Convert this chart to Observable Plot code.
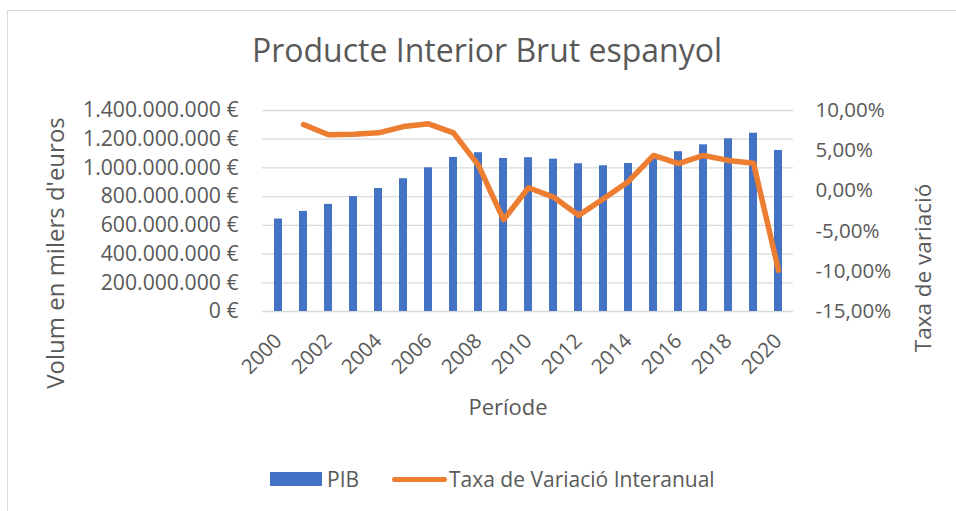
<!DOCTYPE html>
<html>
<head>
<meta charset="utf-8">
<script src="https://cdn.jsdelivr.net/npm/d3@7"></script>
<script src="https://cdn.jsdelivr.net/npm/@observablehq/plot@0.6"></script>
<style>
  html, body { margin: 0; padding: 0; background: #fff; }
  #wrap { position: relative; width: 956px; height: 511px; overflow: hidden; font-family: "Open Sans", sans-serif; color: #595959; }
  #frame { position: absolute; left: 7px; top: 10px; width: 1000px; height: 600px; border-left: 1.5px solid #d9d9d9; border-top: 1.5px solid #d9d9d9; }
  #chart { position: absolute; left: 0; top: 0; }
  #title { position: absolute; left: 9px; top: 30px; width: 956px; text-align: center; font-size: 32px; line-height: 40px; white-space: nowrap; }
  .leg { position: absolute; top: 465px; font-size: 21px; line-height: 28px; white-space: nowrap; }
  #sw1 { position: absolute; left: 270px; top: 472px; width: 52px; height: 14px; background: #4472C4; }
  #sw2 { position: absolute; left: 392px; top: 476.5px; width: 55px; height: 5px; border-radius: 3px; background: #ED7D31; }
</style>
</head>
<body>
<div id="wrap">
  <div id="frame"></div>
  <div id="chart"></div>
  <div id="title">Producte Interior Brut espanyol</div>
  <div id="sw1"></div><div class="leg" style="left:327px">PIB</div>
  <div id="sw2"></div><div class="leg" style="left:449px">Taxa de Variació Interanual</div>
</div>
<script>
// ---- data ----
const years = [2000, 2001, 2002, 2003, 2004, 2005, 2006, 2007, 2008, 2009, 2010,
               2011, 2012, 2013, 2014, 2015, 2016, 2017, 2018, 2019, 2020];
// PIB, volum en milers d'euros
const pib = [644e6, 697e6, 746e6, 800e6, 857e6, 925e6, 1001e6, 1073e6, 1106e6, 1066e6, 1071e6,
             1061e6, 1029e6, 1015e6, 1031e6, 1076e6, 1113e6, 1161e6, 1203e6, 1242e6, 1122e6];
// Taxa de variació interanual (%)
const taxa = [null, 8.26, 6.98, 7.06, 7.22, 8.0, 8.34, 7.22, 3.17, -3.58, 0.39,
              -0.77, -3.04, -0.97, 1.18, 4.41, 3.38, 4.41, 3.79, 3.45, -9.87];
const leftTicks = [0, 200e6, 400e6, 600e6, 800e6, 1000e6, 1200e6, 1400e6];
const rightTicks = [-15, -10, -5, 0, 5, 10];
const xTicks = [2000, 2002, 2004, 2006, 2008, 2010, 2012, 2014, 2016, 2018, 2020];

// ---- secondary axis mapping (-15%..10% onto 0..1.4e9) ----
const yMax = 1400e6, pMin = -15, pMax = 10;
const toLeft = v => (v - pMin) / (pMax - pMin) * yMax;
const fromLeft = v => v / yMax * (pMax - pMin) + pMin;

const fmtEuro = d => d3.format(",")(d).replace(/,/g, ".") + " €";
const fmtPct = d => Math.round(d).toFixed(2).replace(".", ",") + "%";

const table = years.map((y, i) => ({year: y, pib: pib[i], taxa: taxa[i]}));
const lineData = table.filter(d => d.taxa != null);

const chart = Plot.plot({
  width: 956,
  height: 511,
  marginTop: 110,
  marginBottom: 200,
  marginLeft: 262,
  marginRight: 163,
  style: {fontFamily: "Open Sans, sans-serif", fontSize: "20px", color: "#595959", background: "transparent", overflow: "visible"},
  x: {type: "band", domain: years, paddingInner: 0.68, paddingOuter: 0.34},
  y: {domain: [0, yMax]},
  marks: [
    Plot.gridY(leftTicks, {stroke: "#d9d9d9", strokeOpacity: 1, strokeWidth: 1.3}),
    Plot.barY(table, {x: "year", y: "pib", fill: "#4472C4"}),
    Plot.lineY(lineData, {x: "year", y: d => toLeft(d.taxa), stroke: "#ED7D31", strokeWidth: 5.5,
                          strokeLinecap: "round", strokeLinejoin: "round"}),
    Plot.axisY(leftTicks, {anchor: "left", tickSize: 0, tickPadding: 24, tickFormat: fmtEuro, label: null, fontSize: 21.2}),
    Plot.axisY(rightTicks.map(toLeft), {anchor: "right", tickSize: 0, tickPadding: 22,
                                        tickFormat: v => fmtPct(fromLeft(v)), label: null, fontSize: 20.5}),
    Plot.axisX(xTicks, {anchor: "bottom", tickSize: 0, tickPadding: 26, tickRotate: -45, label: null,
                        tickFormat: d => String(d), fontSize: 20.5}),
    Plot.text(["Volum en milers d'euros"], {frameAnchor: "left", textAnchor: "middle", dx: -206, dy: 42, rotate: -90, fontSize: 24, fill: "#595959"}),
    Plot.text(["Taxa de variació"], {frameAnchor: "right", textAnchor: "middle", dx: 130, dy: 57, rotate: -90, fontSize: 22.5, fill: "#595959"}),
    Plot.text(["Període"], {frameAnchor: "bottom", textAnchor: "middle", dx: -20, dy: 103, fontSize: 22, fill: "#595959"})
  ]
});
document.getElementById("chart").appendChild(chart);
</script>
</body>
</html>
